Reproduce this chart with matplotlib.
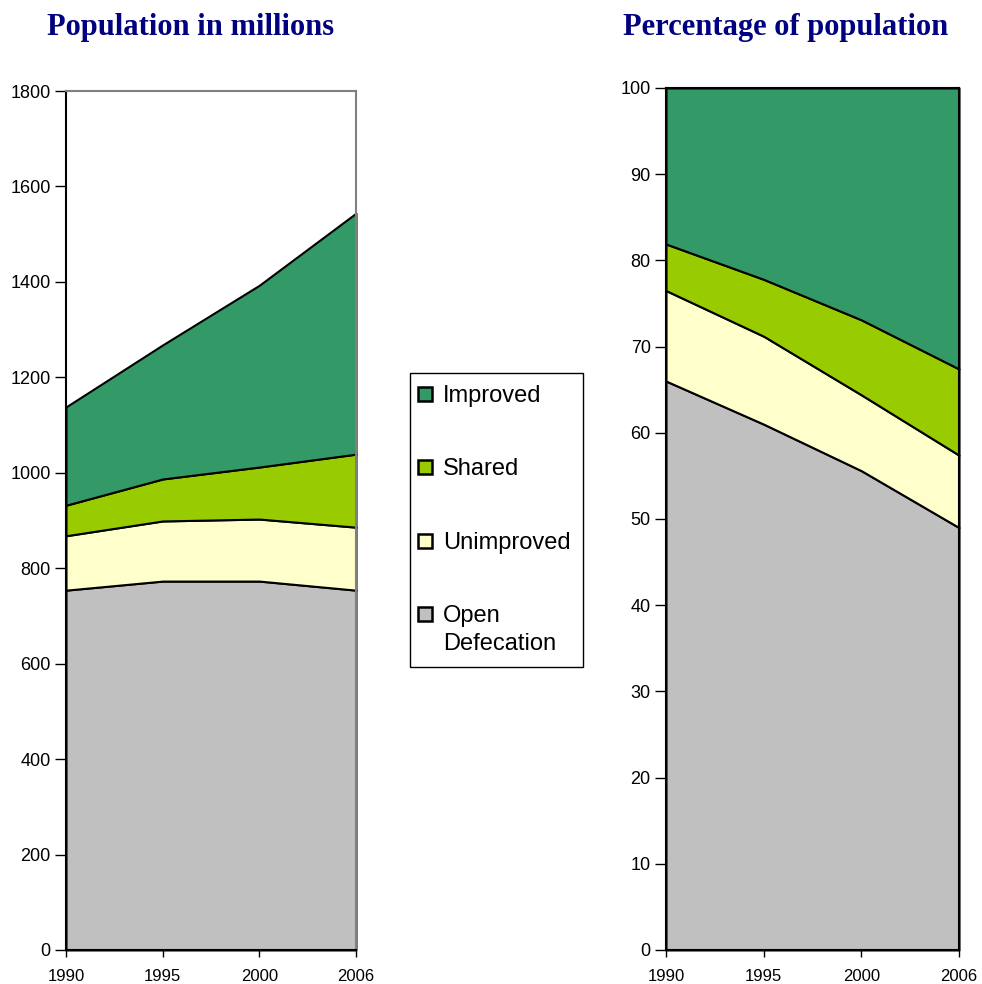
import matplotlib
matplotlib.use("Agg")
import matplotlib.pyplot as plt
from matplotlib.patches import Rectangle

years = ["1990", "1995", "2000", "2006"]
labels = ["Open\nDefecation", "Unimproved", "Shared", "Improved"]
colors = ["#C0C0C0", "#FFFFCC", "#99CC00", "#339966"]

# population in millions, per category
pop_open = [754, 773, 773, 754]
pop_unimproved = [114, 126, 130, 132]
pop_shared = [64, 88, 109, 153]
pop_improved = [206, 281, 381, 505]

# percentage of population
pct_open = [66.0, 61.0, 55.6, 49.0]
pct_unimproved = [10.5, 10.2, 8.8, 8.4]
pct_shared = [5.4, 6.6, 8.7, 10.0]
pct_improved = [18.1, 22.2, 26.9, 32.6]

title_font = {'family': 'Liberation Serif', 'size': 22, 'color': '#000080', 'weight': 'bold'}
plt.rcParams['font.family'] = ['Liberation Sans', 'DejaVu Sans']

W, H = 982, 984
fig = plt.figure(figsize=(W / 100, H / 100), dpi=100)
ax1 = fig.add_axes([0.0672, 0.0346, 0.2953, 0.8729])
ax2 = fig.add_axes([0.6782, 0.0346, 0.2984, 0.876])

x = list(range(len(years)))


def style_axis(ax, ymax, ystep, edgecol):
    ax.set_xlim(0, len(years) - 1)
    ax.set_ylim(0, ymax)
    ax.set_xticks(x)
    ax.set_xticklabels(years, fontsize=12)
    ax.set_yticks(range(0, ymax + 1, ystep))
    ax.tick_params(axis='y', labelsize=13, direction='out', length=8, width=1, pad=3)
    ax.tick_params(axis='x', direction='out', length=5, width=1, pad=9)
    for s in ['left', 'bottom']:
        ax.spines[s].set_color('black')
        ax.spines[s].set_linewidth(1.5)
    for s in ['top', 'right']:
        ax.spines[s].set_color(edgecol)
        ax.spines[s].set_linewidth(1.5)


polys = ax1.stackplot(x, pop_open, pop_unimproved, pop_shared, pop_improved,
                      colors=colors, edgecolor='black', linewidth=1.5)
for p in polys:
    p.set_clip_on(False)
style_axis(ax1, 1800, 200, '#808080')

polys = ax2.stackplot(x, pct_open, pct_unimproved, pct_shared, pct_improved,
                      colors=colors, edgecolor='black', linewidth=1.5)
for p in polys:
    p.set_clip_on(False)
style_axis(ax2, 100, 10, 'black')

fig.text(191 / W, 1 - 28 / H, "Population in millions", ha='center', va='center', **title_font)
fig.text(786 / W, 1 - 28 / H, "Percentage of population", ha='center', va='center', **title_font)

##################################
# legend box (drawn by hand so the handle sits on the first line)
##################################
fig.patches.append(Rectangle((410 / W, 1 - 667 / H), 173 / W, 294 / H,
                             transform=fig.transFigure, facecolor='white',
                             edgecolor='black', linewidth=1.0))
row_y = [394, 467, 541, 614]
for yy, lab, col in zip(row_y, labels[::-1], colors[::-1]):
    fig.patches.append(Rectangle((418 / W, 1 - (yy + 7) / H), 14 / W, 14 / H,
                                 transform=fig.transFigure, facecolor=col,
                                 edgecolor='black', linewidth=1.8))
    fig.text(443 / W, 1 - (yy - 9) / H, lab, ha='left', va='top',
             fontsize=17, linespacing=1.35)

plt.savefig("out.png", dpi=100)
